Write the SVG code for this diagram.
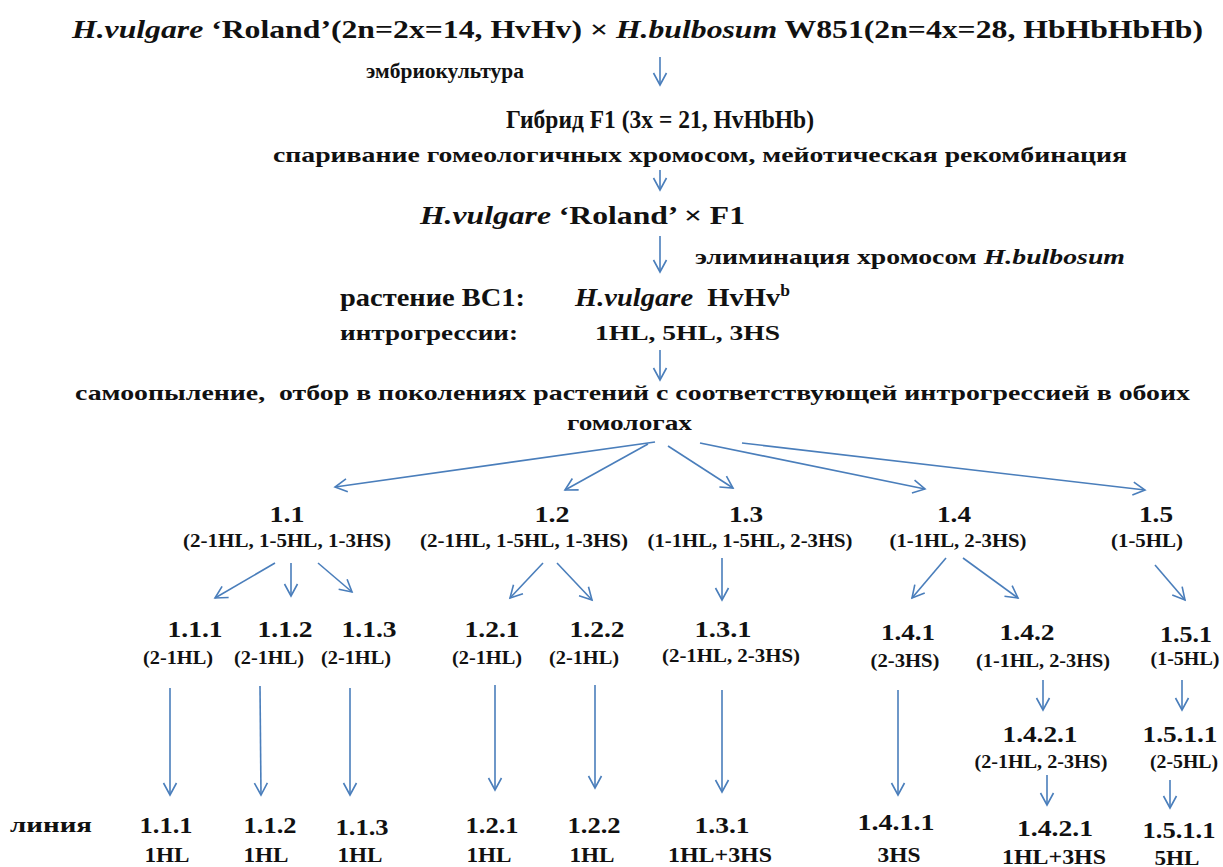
<svg xmlns="http://www.w3.org/2000/svg" width="1223" height="867" viewBox="0 0 1223 867">
<defs>
<marker id="ah" markerUnits="userSpaceOnUse" markerWidth="18" markerHeight="18" refX="13" refY="7" orient="auto" viewBox="0 0 18 14">
<path d="M1,0.5 L13,7 L1,13.5" fill="none" stroke="#4a7ebb" stroke-width="1.6"/>
</marker>
</defs>
<style>
text{font-family:"Liberation Serif","Times New Roman",serif;fill:#111;font-weight:bold}
.t{font-size:26px}
.m{font-size:22px}
.n{font-size:24px}
.s{font-size:18px}
.b{font-size:22px}
.i{font-style:italic}
.c{text-anchor:middle}
.a{stroke:#4a7ebb;stroke-width:1.6;fill:none;marker-end:url(#ah)}
</style>
<rect width="1223" height="867" fill="#fff"/>
<g id="header">
<text class="t" x="72" y="38" textLength="1131" lengthAdjust="spacingAndGlyphs"><tspan class="i">H.vulgare</tspan> ‘Roland’(2n=2x=14, HvHv) × <tspan class="i">H.bulbosum</tspan> W851(2n=4x=28, HbHbHbHb)</text>
<text class="m" x="366" y="78" font-size="23" textLength="158" lengthAdjust="spacingAndGlyphs">эмбриокультура</text>
</g>
<g id="f1">
<text class="t" x="506" y="128" font-size="24" textLength="308" lengthAdjust="spacingAndGlyphs">Гибрид F1 (3x = 21, HvHbHb)</text>
<text class="m" x="273" y="162" textLength="854" lengthAdjust="spacingAndGlyphs">спаривание гомеологичных хромосом, мейотическая рекомбинация</text>
</g>
<g id="bc">
<text class="t" x="420" y="224" textLength="325" lengthAdjust="spacingAndGlyphs"><tspan class="i">H.vulgare</tspan> ‘Roland’ × F1</text>
<text class="m" x="695" y="264" textLength="430" lengthAdjust="spacingAndGlyphs"><tspan>элиминация хромосом </tspan><tspan class="i">H.bulbosum</tspan></text>
</g>
<g id="bc1">
<text class="t" x="340" y="306" textLength="185" lengthAdjust="spacingAndGlyphs">растение BC1:</text>
<text class="t" x="575" y="306" textLength="215" lengthAdjust="spacingAndGlyphs"><tspan class="i">H.vulgare</tspan>&#160; HvHv<tspan font-size="16" dy="-10">b</tspan></text>
<text class="m" x="340" y="340" textLength="178" lengthAdjust="spacingAndGlyphs">интрогрессии:</text>
<text class="m" x="595" y="340" textLength="185" lengthAdjust="spacingAndGlyphs">1HL, 5HL, 3HS</text>
</g>
<g id="self">
<text class="m" x="75" y="400" textLength="1115" lengthAdjust="spacingAndGlyphs">самоопыление,&#160; отбор в поколениях растений с соответствующей интрогрессией в обоих</text>
<text class="m" x="567" y="430" textLength="125" lengthAdjust="spacingAndGlyphs">гомологах</text>
</g>
<g id="n1_1"><text class="n c" x="287" y="522" textLength="35" lengthAdjust="spacingAndGlyphs">1.1</text><text class="s c" x="287" y="547" textLength="208" lengthAdjust="spacingAndGlyphs">(2-1HL, 1-5HL, 1-3HS)</text></g>
<g id="n1_2"><text class="n c" x="552" y="522" textLength="35" lengthAdjust="spacingAndGlyphs">1.2</text><text class="s c" x="524" y="547" textLength="208" lengthAdjust="spacingAndGlyphs">(2-1HL, 1-5HL, 1-3HS)</text></g>
<g id="n1_3"><text class="n c" x="746" y="522" textLength="34" lengthAdjust="spacingAndGlyphs">1.3</text><text class="s c" x="750" y="547" textLength="205" lengthAdjust="spacingAndGlyphs">(1-1HL, 1-5HL, 2-3HS)</text></g>
<g id="n1_4"><text class="n c" x="954" y="522" textLength="34" lengthAdjust="spacingAndGlyphs">1.4</text><text class="s c" x="958" y="547" textLength="137" lengthAdjust="spacingAndGlyphs">(1-1HL, 2-3HS)</text></g>
<g id="n1_5"><text class="n c" x="1156" y="522" textLength="34" lengthAdjust="spacingAndGlyphs">1.5</text><text class="s c" x="1147" y="547" textLength="72" lengthAdjust="spacingAndGlyphs">(1-5HL)</text></g>
<g id="n1_1_1"><text class="n c" x="195" y="637" textLength="55" lengthAdjust="spacingAndGlyphs">1.1.1</text><text class="s c" x="178" y="664" textLength="70" lengthAdjust="spacingAndGlyphs">(2-1HL)</text></g>
<g id="n1_1_2"><text class="n c" x="285" y="637" textLength="55" lengthAdjust="spacingAndGlyphs">1.1.2</text><text class="s c" x="269" y="664" textLength="70" lengthAdjust="spacingAndGlyphs">(2-1HL)</text></g>
<g id="n1_1_3"><text class="n c" x="369" y="637" textLength="55" lengthAdjust="spacingAndGlyphs">1.1.3</text><text class="s c" x="356" y="664" textLength="70" lengthAdjust="spacingAndGlyphs">(2-1HL)</text></g>
<g id="n1_2_1"><text class="n c" x="492" y="637" textLength="55" lengthAdjust="spacingAndGlyphs">1.2.1</text><text class="s c" x="487" y="664" textLength="70" lengthAdjust="spacingAndGlyphs">(2-1HL)</text></g>
<g id="n1_2_2"><text class="n c" x="597" y="637" textLength="55" lengthAdjust="spacingAndGlyphs">1.2.2</text><text class="s c" x="584" y="664" textLength="70" lengthAdjust="spacingAndGlyphs">(2-1HL)</text></g>
<g id="n1_3_1"><text class="n c" x="723" y="637" textLength="57" lengthAdjust="spacingAndGlyphs">1.3.1</text><text class="s c" x="731" y="662" textLength="138" lengthAdjust="spacingAndGlyphs">(2-1HL, 2-3HS)</text></g>
<g id="n1_4_1"><text class="n c" x="908" y="640" textLength="54" lengthAdjust="spacingAndGlyphs">1.4.1</text><text class="s c" x="905" y="667" textLength="69" lengthAdjust="spacingAndGlyphs">(2-3HS)</text></g>
<g id="n1_4_2"><text class="n c" x="1027" y="640" textLength="55" lengthAdjust="spacingAndGlyphs">1.4.2</text><text class="s c" x="1043" y="667" textLength="134" lengthAdjust="spacingAndGlyphs">(1-1HL, 2-3HS)</text></g>
<g id="n1_5_1"><text class="n c" x="1186" y="642" textLength="52" lengthAdjust="spacingAndGlyphs">1.5.1</text><text class="s c" x="1185" y="665" textLength="69" lengthAdjust="spacingAndGlyphs">(1-5HL)</text></g>
<g id="n1_4_2_1"><text class="n c" x="1040" y="742" textLength="75" lengthAdjust="spacingAndGlyphs">1.4.2.1</text><text class="s c" x="1041" y="768" textLength="133" lengthAdjust="spacingAndGlyphs">(2-1HL, 2-3HS)</text></g>
<g id="n1_5_1_1"><text class="n c" x="1180" y="742" textLength="75" lengthAdjust="spacingAndGlyphs">1.5.1.1</text><text class="s c" x="1184" y="768" textLength="68" lengthAdjust="spacingAndGlyphs">(2-5HL)</text></g>
<g id="lines">
<text class="m" x="10" y="832" textLength="82" lengthAdjust="spacingAndGlyphs">линия</text>
<text class="n c" x="166" y="833" textLength="53" lengthAdjust="spacingAndGlyphs">1.1.1</text><text class="b c" x="167" y="862" textLength="45" lengthAdjust="spacingAndGlyphs">1HL</text>
<text class="n c" x="270" y="833" textLength="53" lengthAdjust="spacingAndGlyphs">1.1.2</text><text class="b c" x="266" y="862" textLength="45" lengthAdjust="spacingAndGlyphs">1HL</text>
<text class="n c" x="362" y="835" textLength="53" lengthAdjust="spacingAndGlyphs">1.1.3</text><text class="b c" x="360" y="862" textLength="45" lengthAdjust="spacingAndGlyphs">1HL</text>
<text class="n c" x="492" y="833" textLength="53" lengthAdjust="spacingAndGlyphs">1.2.1</text><text class="b c" x="489" y="862" textLength="45" lengthAdjust="spacingAndGlyphs">1HL</text>
<text class="n c" x="594" y="833" textLength="53" lengthAdjust="spacingAndGlyphs">1.2.2</text><text class="b c" x="592" y="862" textLength="45" lengthAdjust="spacingAndGlyphs">1HL</text>
<text class="n c" x="722" y="833" textLength="55" lengthAdjust="spacingAndGlyphs">1.3.1</text><text class="b c" x="720" y="862" textLength="104" lengthAdjust="spacingAndGlyphs">1HL+3HS</text>
<text class="n c" x="896" y="830" textLength="77" lengthAdjust="spacingAndGlyphs">1.4.1.1</text><text class="b c" x="899" y="862" textLength="43" lengthAdjust="spacingAndGlyphs">3HS</text>
<text class="n c" x="1055" y="836" textLength="76" lengthAdjust="spacingAndGlyphs">1.4.2.1</text><text class="b c" x="1054" y="864" textLength="104" lengthAdjust="spacingAndGlyphs">1HL+3HS</text>
<text class="n c" x="1179" y="838" textLength="73" lengthAdjust="spacingAndGlyphs">1.5.1.1</text><text class="b c" x="1177" y="865" textLength="45" lengthAdjust="spacingAndGlyphs">5HL</text>
</g>
<g id="connectors">
<path class="a" d="M660,57 L660,85"/>
<path class="a" d="M660,170 L660,190"/>
<path class="a" d="M660,236 L660,272"/>
<path class="a" d="M660,350 L660,380"/>
<path class="a" d="M655,442 L335,487"/>
<path class="a" d="M648,444 L565,490"/>
<path class="a" d="M668,446 L733,488"/>
<path class="a" d="M700,443 L925,489"/>
<path class="a" d="M742,443 L1145,490"/>
<path class="a" d="M275,563 L215,598"/>
<path class="a" d="M291,563 L291,596"/>
<path class="a" d="M318,563 L352,592"/>
<path class="a" d="M543,563 L510,598"/>
<path class="a" d="M557,563 L592,600"/>
<path class="a" d="M722,558 L722,600"/>
<path class="a" d="M946,558 L912,598"/>
<path class="a" d="M963,558 L1018,598"/>
<path class="a" d="M1155,565 L1185,600"/>
<path class="a" d="M170,688 L170,795"/>
<path class="a" d="M260,686 L261,795"/>
<path class="a" d="M350,688 L350,795"/>
<path class="a" d="M495,685 L495,790"/>
<path class="a" d="M595,685 L595,788"/>
<path class="a" d="M722,690 L722,792"/>
<path class="a" d="M898,690 L898,795"/>
<path class="a" d="M1043,680 L1043,710"/>
<path class="a" d="M1182,680 L1182,710"/>
<path class="a" d="M1047,775 L1047,805"/>
<path class="a" d="M1170,780 L1170,808"/>
</g>
</svg>
